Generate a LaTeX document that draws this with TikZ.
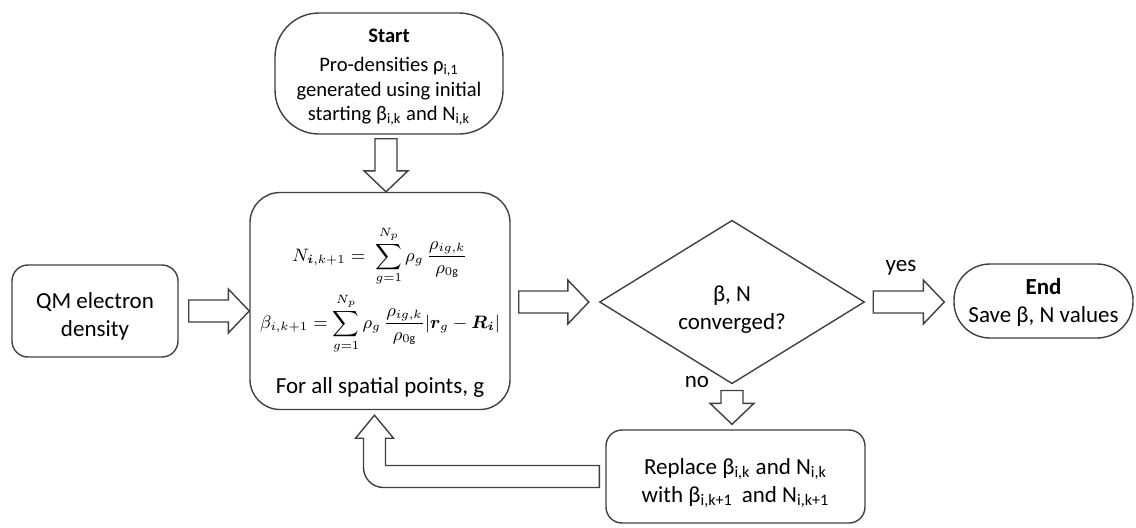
\documentclass[tikz,border=0pt]{standalone}
\usepackage{amsmath}
\usepackage{bm}
\usepackage{fontspec}
\setmainfont{Carlito}
\usetikzlibrary{calc,shapes.geometric}

\definecolor{linegray}{RGB}{64,64,64}
\newcommand{\arrshaft}{5.5pt}
\newcommand{\arrheadw}{11pt}
\newcommand{\arrheadl}{10.5pt}
% hollow block arrow: from, to, gap at start, gap at tip
\newcommand{\fatarrow}[4]{%
  \pgfmathsetlengthmacro{\arrback}{#4+\arrheadl}%
  \draw[fat] ($(#1)!#3!(#2)!\arrshaft!90:(#2)$) -- ($(#2)!\arrback!(#1)!\arrshaft!90:(#2)$)
    -- ($(#2)!\arrback!(#1)!\arrheadw!90:(#2)$) -- ($(#2)!#4!(#1)$)
    -- ($(#2)!\arrback!(#1)!\arrheadw!-90:(#2)$) -- ($(#2)!\arrback!(#1)!\arrshaft!-90:(#2)$)
    -- ($(#1)!#3!(#2)!\arrshaft!-90:(#2)$) -- cycle;}
% centred lines, set a little low in their box
\newcommand{\boxtext}[2][-3pt]{\raisebox{#1}[\height][\depth]{\begin{tabular}{@{}c@{}}#2\end{tabular}}}
\newcommand{\eqsize}{\fontsize{9}{11}\selectfont}

\begin{document}
\begin{tikzpicture}[x=0.5pt, y=-0.5pt, font=\fontsize{11.5}{14}\selectfont,
    box/.style={draw=linegray, line width=0.7pt, inner sep=0pt},
    fat/.style={draw=linegray, line width=0.7pt, fill=white, line join=miter}]
                \useasboundingbox (0,0) rectangle (1136,527);
                \node[box, rounded corners=22pt, minimum width=114pt, minimum height=60.5pt, font=\fontsize{10.3}{12.2}\selectfont] (start) at (389,73.5)
                    {\boxtext[-1.5pt]{\textbf{Start}\\[2.5pt] Pro-densities ρ\textsubscript{i,1}\\generated using initial\\starting β\textsubscript{i,k} and N\textsubscript{i,k}}};
                \node[box, rounded corners=15pt, minimum width=130pt, minimum height=108.5pt] (main) at (380,301)
                    {\boxtext[-6.6pt]{{\eqsize$\displaystyle N_{\bm{i},k+1} =\; \sum_{g=1}^{N_p}\rho_g\,\frac{\rho_{ig,k}}{\rho_{0\mathrm{g}}}$}\\[4.75pt]\noalign{\vskip 3.5pt}
                     {\eqsize$\displaystyle \beta_{i,k+1} = \sum_{g=1}^{N_p}\rho_g\,\frac{\rho_{ig,k}}{\rho_{0\mathrm{g}}}\lvert\bm{r}_g-\bm{R_i}\rvert$}\\[13pt]\noalign{\vskip 5.75pt}
                     For all spatial points, g}};
                \node[box, rounded corners=8pt, minimum width=83pt, minimum height=46pt] (qm) at (95,311) {\boxtext{QM electron\\density}};
                \node[box, diamond, minimum width=132.5pt, minimum height=58pt] (dia) at (732,302) {\boxtext[-4pt]{β, N\\converged?}};
                \node[box, rounded corners=18pt, minimum width=89.5pt, minimum height=37pt] (end) at (1043.5,301) {\boxtext[-1pt]{\textbf{End}\\Save β, N values}};
                \node[box, rounded corners=8pt, minimum width=129.5pt, minimum height=46.5pt] (rep) at (735.5,476.5)
                    {\boxtext{Replace β\textsubscript{i,k} and N\textsubscript{i,k}\\with β\textsubscript{i,k+1}\, and N\textsubscript{i,k+1}}};
                \node (yes) at (901,268) {yes};
                \node (no) at (697,382) {no};
                \coordinate (startout) at ([xshift=-1.5pt]start.south);
                \fatarrow{startout}{main.north -| startout}{2pt}{0pt}
                \fatarrow{qm.east}{main.west |- qm.east}{5pt}{0pt}
                \fatarrow{main.east |- dia.west}{dia.west}{4pt}{5pt}
                \fatarrow{dia.east}{end.west |- dia.east}{4pt}{4.5pt}
                \fatarrow{dia.south}{rep.north -| dia.south}{3pt}{2.5pt}
                \draw[fat] let \p1=([xshift=-3pt]rep.west), \p2=([xshift=-2.75pt,yshift=-2.5pt]main.south) in
                    (\x1,\y1+5.5pt) -- (\x2+5.5pt,\y1+5.5pt) -- (\x2+5.5pt,\y2-11.5pt) -- (\x2+9.5pt,\y2-11.5pt) -- (\p2)
                    -- (\x2-9.5pt,\y2-11.5pt) -- (\x2-5.5pt,\y2-11.5pt) -- (\x2-5.5pt,\y1+4.5pt)
                    arc[start angle=180, end angle=270, radius=10pt] -- (\x1,\y1-5.5pt) -- cycle;
              \end{tikzpicture}
\end{document}
